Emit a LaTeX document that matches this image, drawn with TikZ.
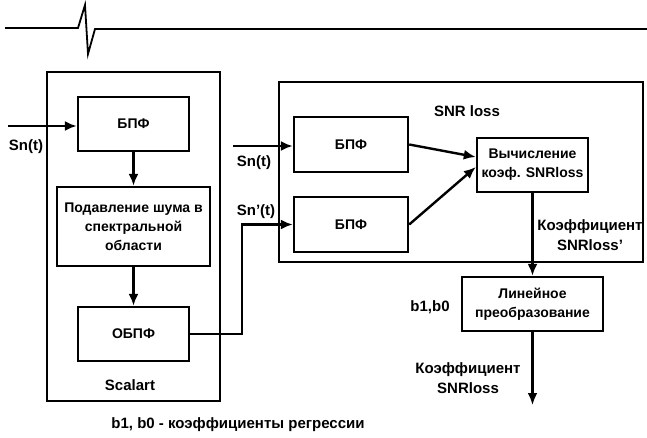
\documentclass[tikz,border=0pt]{standalone}
\usepackage{fontspec}
\setmainfont{Liberation Sans}
\usepackage{tikz}
\usetikzlibrary{arrows.meta}

\begin{document}
\begin{tikzpicture}[x=0.5pt, y=-0.5pt,
		blok/.style={draw, rectangle, line width=1.2pt, align=center, inner sep=1pt, font=\bfseries\fontsize{7}{9.5}\selectfont},
		tekst/.style={align=center, inner sep=0pt, font=\bfseries\fontsize{7.5}{10}\selectfont},
		strelka/.style={line width=1.2pt, -{Latex[length=6pt, width=5pt]}}]
				\useasboundingbox (0, 0) rectangle (647, 438);
				\draw[line width=0.9pt] (5, 28) -- (78, 28) -- (85, 5) -- (88, 54) -- (95, 29) -- (647, 29);
				\node[draw, rectangle, line width=1.2pt, minimum width=86.5pt, minimum height=164.5pt] (SC)at(133.5, 236.5) {};
				\node[draw, rectangle, line width=1.2pt, minimum width=182pt, minimum height=90pt] (SL)at(461, 172) {};
				\node[blok, minimum width=55.5pt, minimum height=27pt] (A)at(133.5, 124) {БПФ};
				\node[blok, minimum width=76.5pt, minimum height=39.5pt] (B)at(133.5, 226.5) {Подавление шума в\\спектральной\\области};
				\node[blok, minimum width=55.5pt, minimum height=27pt] (C)at(133.5, 334) {ОБПФ};
				\node[blok, minimum width=57pt, minimum height=27.5pt] (D)at(351, 144.5) {БПФ};
				\node[blok, minimum width=57pt, minimum height=27.5pt] (E)at(351, 224.5) {БПФ};
				\node[blok, minimum width=55.5pt, minimum height=27pt] (V)at(532.5, 165) {Вычисление\\коэф. SNRloss};
				\node[blok, minimum width=70.5pt, minimum height=27pt] (L)at(532.5, 304) {Линейное\\преобразование};
				\coordinate (X1)at(8, 126);
				\coordinate (X2)at(233, 146);
				\coordinate (K)at(242, 224.5);
				\coordinate (W)at(532.5, 405);
				\node[tekst] (T1)at(26, 147) {Sn(t)};
				\node[tekst] (T2)at(254, 163) {Sn(t)};
				\node[tekst] (T3)at(256, 212) {Sn'(t)};
				\node[tekst] (T4)at(467, 111) {SNR loss};
				\node[tekst] (T5)at(590, 235) {Коэффициент\\SNRloss'};
				\node[tekst] (T6)at(430, 307) {b1,b0};
				\node[tekst] (T7)at(468, 378) {Коэффициент\\SNRloss};
				\node[tekst] (T8)at(130, 385) {Scalart};
				\node[tekst] (T9)at(238, 425) {b1, b0 - коэффициенты регрессии};
				\draw[strelka] (X1) -- (X1 -| A.west);
				\draw[strelka] (A) -- (B);
				\draw[strelka] (B) -- (C);
				\draw[strelka] (C.east) -| (K) -- (E.west);
				\draw[strelka] (X2) -- (X2 -| D.west);
				\draw[strelka] (D.east) -- ([yshift=4pt]V.west);
				\draw[strelka] (E.east) -- ([yshift=-1pt]V.west);
				\draw[strelka] (V) -- (L);
				\draw[strelka] (L) -- (W);
			\end{tikzpicture}
\end{document}
